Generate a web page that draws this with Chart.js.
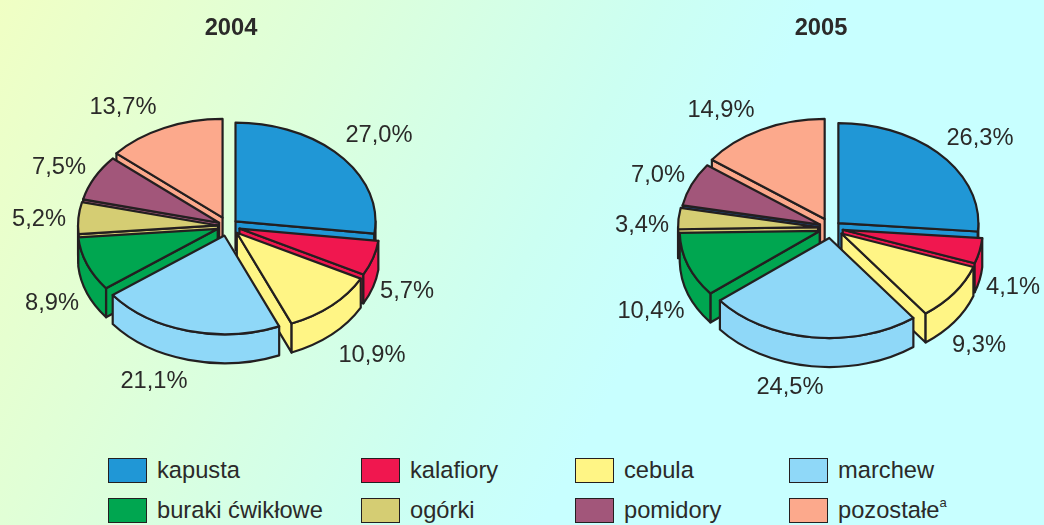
<!DOCTYPE html>
<html lang="pl">
<head>
  <meta charset="UTF-8">
  <title>Warzywa 2004 i 2005</title>
  <script src="https://cdn.jsdelivr.net/npm/chart.js@4"></script>
  <style>
    html, body { margin: 0; padding: 0; }
    body {
      position: relative; width: 1044px; height: 525px; overflow: hidden;
      background: linear-gradient(118deg, #f0ffc4 0%, #dcffdc 28%, #ccfff2 50%, #c8ffff 62%, #c8ffff 100%);
      font-family: "Liberation Sans", Arial, sans-serif; color: #2b2a29;
    }
    canvas { position: absolute; top: 0; }
    #chart2004 { left: 0; }
    #chart2005 { left: 598px; }
    #legend { position: absolute; left: 108px; top: 450px; display: grid;
      grid-template-columns: 253px 214px 214px 214px; grid-auto-rows: 40px; font-size: 23.7px; }
    .item { display: flex; align-items: center; white-space: nowrap; }
    .swatch { width: 37px; height: 23px; border: 1px solid #231f20; margin-right: 10px; flex: none; }
    sup { font-size: 13px; line-height: 0; position: relative; top: -7px; vertical-align: baseline; }
  </style>
</head>
<body>
<canvas id="chart2004" width="462" height="445"></canvas>
<canvas id="chart2005" width="446" height="445"></canvas>
<div id="legend"></div>

<script>
  const categories = ['kapusta', 'kalafiory', 'cebula', 'marchew', 'buraki ćwikłowe', 'ogórki', 'pomidory', 'pozostałe'];
  const values2004 = [27.0, 5.7, 10.9, 21.1, 8.9, 5.2, 7.5, 13.7];
  const values2005 = [26.3, 4.1, 9.3, 24.5, 10.4, 3.4, 7.0, 14.9];
  const labels2004 = ['27,0%', '5,7%', '10,9%', '21,1%', '8,9%', '5,2%', '7,5%', '13,7%'];
  const labels2005 = ['26,3%', '4,1%', '9,3%', '24,5%', '10,4%', '3,4%', '7,0%', '14,9%'];
  const colors = ['#2097d6', '#f0174f', '#fff585', '#8fd8f8', '#00a650', '#d5cd73', '#a2567a', '#fca98c'];
  // the cut face under pomidory 2005 is dark blue in the original
  const faceColors2005 = ['#2097d6', '#f0174f', '#fff585', '#8fd8f8', '#00a650', '#d5cd73', '#1d4f8f', '#fca98c'];

  // how far each slice is pulled out of the pie, px
  const explode2004 = [10, 12, 13, 14, 11, 10, 10, 13];
  const explode2005 = [10, 12, 13, 14, 12, 13, 12, 14];
  // label centres, page px
  const labelPos2004 = [[379, 135], [407, 291], [372, 355], [154, 381], [52, 303], [39, 219], [59, 167], [123, 107]];
  const labelPos2005 = [[980, 138], [1013, 287], [979, 345], [790, 387], [651, 311], [642, 225], [658, 175], [721, 110]];

  const depth = 29;
  const lineColor = '#231f20';
  const fontFamily = '"Liberation Sans", Arial, sans-serif';

  function drawSlice(ctx, cx, cy, r, ry, a0, a1, color, faceColor) {
    ctx.strokeStyle = lineColor;
    ctx.lineWidth = 2.2;
    ctx.lineJoin = 'round';

    function paint(fill) { ctx.fillStyle = fill; ctx.closePath(); ctx.fill(); ctx.stroke(); }
    function face(a) {
      const x = cx + Math.cos(a) * r, y = cy + Math.sin(a) * ry;
      ctx.beginPath();
      ctx.moveTo(cx, cy);
      ctx.lineTo(x, y);
      ctx.lineTo(x, y + depth);
      ctx.lineTo(cx, cy + depth);
      paint(faceColor);
    }

    // only the cut faces turned to the viewer
    if (Math.cos(a0) < 0) face(a0);
    if (Math.cos(a1) > 0) face(a1);

    // outer wall, the part of the rim that faces front
    for (let n = -1; n <= 1; n++) {
      const lo = Math.max(a0, n * 2 * Math.PI);
      const hi = Math.min(a1, Math.PI + n * 2 * Math.PI);
      if (hi > lo) {
        ctx.beginPath();
        ctx.ellipse(cx, cy, r, ry, 0, lo, hi);
        ctx.ellipse(cx, cy + depth, r, ry, 0, hi, lo, true);
        paint(color);
      }
    }

    ctx.beginPath();
    ctx.moveTo(cx, cy);
    ctx.ellipse(cx, cy, r, ry, 0, a0, a1);
    paint(color);
  }

  function makePie(id, title, values, labels, layout) {
    const canvas = document.getElementById(id);
    const left = canvas.offsetLeft;

    const pie3d = {
      id: 'pie3d',
      beforeDatasetDraw(chart, args) {
        const ctx = chart.ctx;
        const order = args.meta.data.map((arc, i) => {
          const mid = (arc.startAngle + arc.endAngle) / 2;
          return { arc, i, mid };
        }).sort((p, q) => Math.sin(p.mid) - Math.sin(q.mid));

        order.forEach(({ arc, i, mid }) => {
          const cx = layout.cx - left + Math.cos(mid) * layout.explode[i];
          const cy = layout.cy + Math.sin(mid) * layout.explode[i] * layout.tilt;
          drawSlice(ctx, cx, cy, arc.outerRadius, arc.outerRadius * layout.tilt,
            arc.startAngle, arc.endAngle, colors[i], layout.faces[i]);
        });
        return false;
      },
      afterDatasetsDraw(chart) {
        const ctx = chart.ctx;
        ctx.save();
        ctx.font = '23.7px ' + fontFamily;
        ctx.fillStyle = '#2b2a29';
        ctx.textAlign = 'center';
        ctx.textBaseline = 'middle';
        labels.forEach((text, i) => ctx.fillText(text, layout.labelPos[i][0] - left, layout.labelPos[i][1]));
        ctx.restore();
      }
    };

    return new Chart(canvas, {
      type: 'pie',
      data: {
        labels: categories,
        datasets: [{ data: values, backgroundColor: colors, radius: 140 }]
      },
      options: {
        responsive: false,
        animation: false,
        events: [],
        plugins: {
          legend: { display: false },
          tooltip: { enabled: false },
          title: {
            display: true,
            text: title,
            color: '#2b2a29',
            font: { family: fontFamily, size: 23.7, weight: 'bold' },
            padding: { top: 14, bottom: 0 }
          }
        }
      },
      plugins: [pie3d]
    });
  }

  makePie('chart2004', '2004', values2004, labels2004,
    { cx: 228, cy: 226, tilt: 0.705, explode: explode2004, labelPos: labelPos2004, faces: colors });
  makePie('chart2005', '2005', values2005, labels2005,
    { cx: 831, cy: 228, tilt: 0.715, explode: explode2005, labelPos: labelPos2005, faces: faceColors2005 });

  document.getElementById('legend').innerHTML = categories.map((name, i) => {
    const text = name === 'pozostałe' ? name + '<sup>a</sup>' : name;
    return `<div class="item"><span class="swatch" style="background:${colors[i]}"></span>${text}</div>`;
  }).join('');
</script>
</body>
</html>
